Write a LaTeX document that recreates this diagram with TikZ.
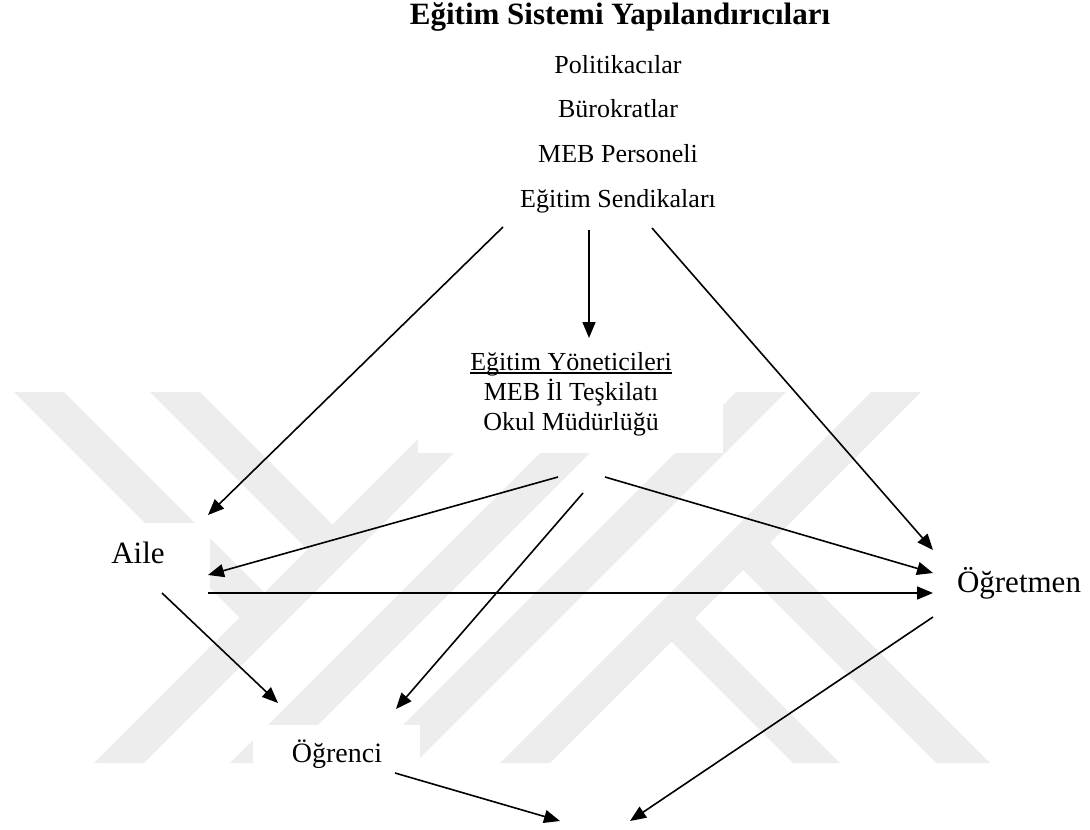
\documentclass[tikz,border=0pt]{standalone}
\usepackage{fontspec}
\setmainfont{Liberation Serif}
\usetikzlibrary{arrows.meta}
\definecolor{wmgray}{RGB}{237,237,237}
\begin{document}
\begin{tikzpicture}[x=1pt,y=-1pt,
  lbl/.style={inner sep=0pt,anchor=base,font=\fontsize{26}{30}\selectfont},
  big/.style={inner sep=0pt,anchor=base,font=\fontsize{31}{36}\selectfont},
  mid/.style={inner sep=0pt,anchor=base,font=\fontsize{28}{32}\selectfont},
  arr/.style={line width=1.6pt,-{Triangle[length=16pt,width=13pt]}},
  wm/.style={fill=wmgray}]
\useasboundingbox (0,0) rectangle (1090,830);

% faint background emblem: diagonal bands
\fill[wm] (14,392) -- (64,392) -- (277,605) -- (252,630) -- cycle;
\fill[wm] (150,392) -- (200,392) -- (345,537) -- (320,562) -- cycle;
\fill[wm] (94,763) -- (144,763) -- (515,392) -- (465,392) -- cycle;
\fill[wm] (230,763) -- (280,763) -- (651,392) -- (601,392) -- cycle;
\fill[wm] (365,763) -- (415,763) -- (786,392) -- (736,392) -- cycle;
\fill[wm] (500,763) -- (550,763) -- (921,392) -- (871,392) -- cycle;
\fill[wm] (659,629) -- (682,605) -- (840,763) -- (793,763) -- cycle;
\fill[wm] (730,557) -- (757,530) -- (990,763) -- (936,763) -- cycle;

% white panels behind the labels
\fill[white] (418,380) rectangle (723,453);
\fill[white] (60,523) rectangle (210,595);
\fill[white] (253,725) rectangle (420,775);

% labels
\node[big,font=\bfseries\fontsize{31}{36}\selectfont] (title) at (620,24) {Eğitim Sistemi Yapılandırıcıları};
\node[lbl] (pol) at (618,73) {Politikacılar};
\node[lbl] (bur) at (618,117) {Bürokratlar};
\node[lbl] (mebp) at (618,162) {MEB Personeli};
\node[lbl] (sen) at (618,207) {Eğitim Sendikaları};

\node[lbl] (yon1) at (571,370) {Eğitim Yöneticileri};
\node[lbl] (yon2) at (571,400) {MEB İl Teşkilatı};
\node[lbl] (yon3) at (571,430) {Okul Müdürlüğü};
\draw[line width=1.4pt] ([shift={(0,3)}]yon1.base west) -- ([shift={(0,3)}]yon1.base east);

\node[big] (aile) at (138,563) {Aile};
\node[big] (ogretmen) at (1019,592) {Öğretmen};
\node[mid] (ogrenci) at (337,762) {Öğrenci};

\coordinate (sonA) at (560,821);
\coordinate (sonB) at (630,821);

% connectors
\draw[arr] ([shift={(-115,20)}]sen.base) -- ([shift={(70,-48)}]aile.base);
\draw[arr] ([shift={(-29,23)}]sen.base) -- ([shift={(18,-32)}]yon1.base);
\draw[arr] ([shift={(34,21)}]sen.base) -- ([shift={(-86,-42)}]ogretmen.base);

\draw[arr] ([shift={(-13,47)}]yon3.base) -- ([shift={(70,12)}]aile.base);
\draw[arr] ([shift={(34,47)}]yon3.base) -- ([shift={(-86,-19)}]ogretmen.base);
\draw[arr] ([shift={(12,63)}]yon3.base) -- ([shift={(59,-53)}]ogrenci.base);

\draw[arr] ([shift={(70,30)}]aile.base) -- ([shift={(-86,1)}]ogretmen.base);
\draw[arr] ([shift={(24,30)}]aile.base) -- ([shift={(-59,-59)}]ogrenci.base);

\draw[arr] ([shift={(58,11)}]ogrenci.base) -- (sonA);
\draw[arr] ([shift={(-86,25)}]ogretmen.base) -- (sonB);
\end{tikzpicture}
\end{document}
